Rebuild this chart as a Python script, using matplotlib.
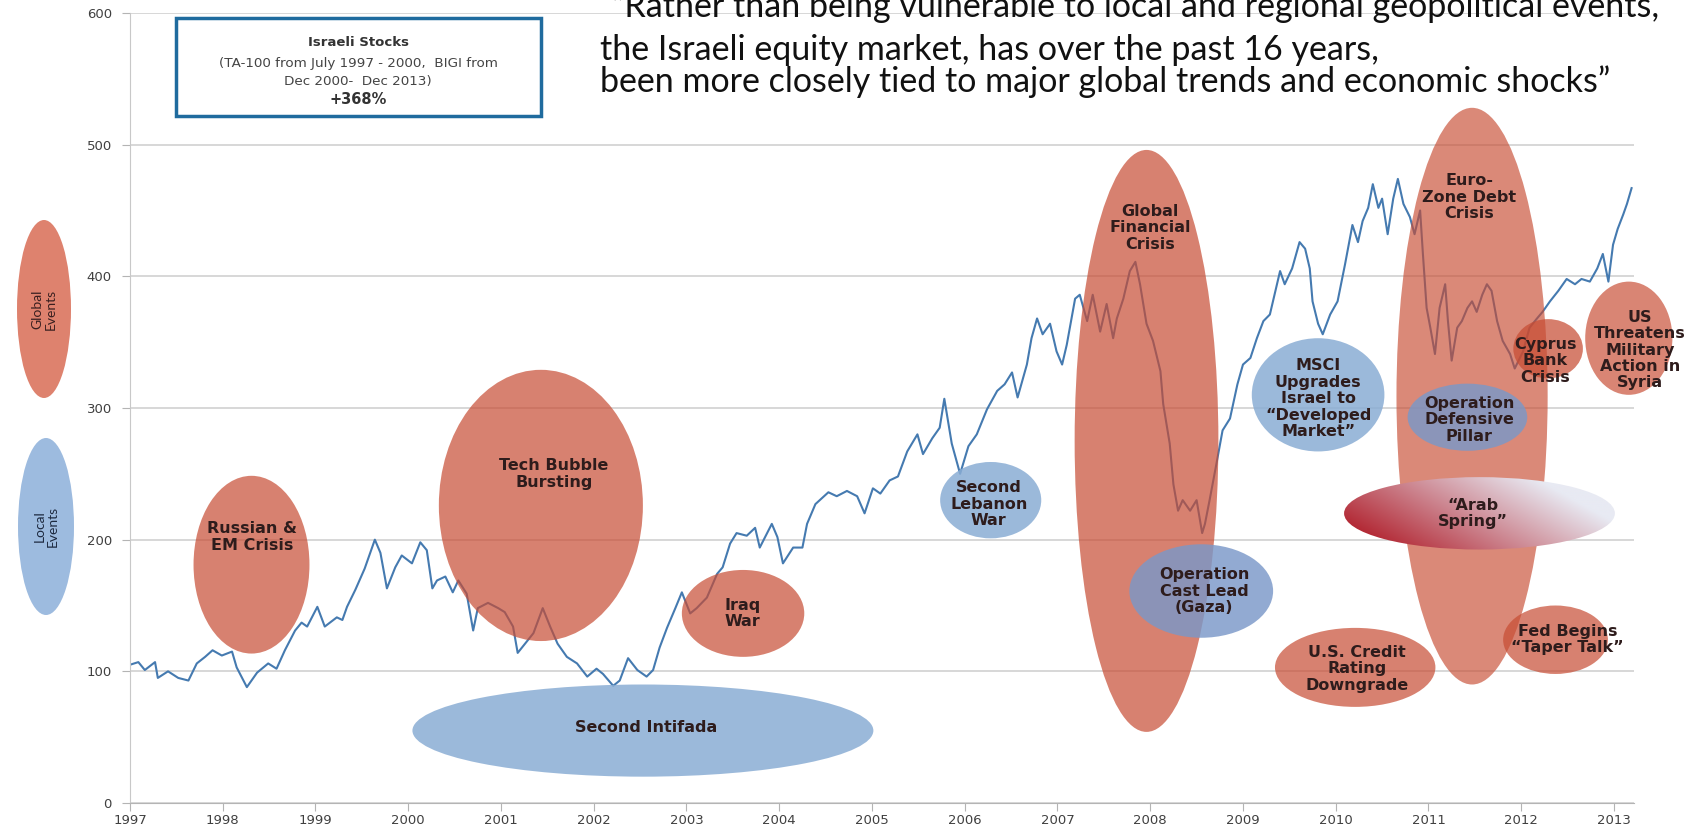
import numpy as np
import matplotlib.pyplot as plt
from matplotlib.patches import Ellipse, Rectangle

# ── Index level (rebased to 100), sampled roughly monthly ─────────────────────
years = [
    1997.00, 1997.09, 1997.16, 1997.27, 1997.30, 1997.41, 1997.52, 1997.63, 1997.72, 1997.81, 1997.89, 1997.99,
    1998.10, 1998.15, 1998.26, 1998.37, 1998.49, 1998.58, 1998.67, 1998.78, 1998.85, 1998.91,
    1999.02, 1999.10, 1999.23, 1999.29, 1999.34, 1999.43, 1999.53, 1999.64, 1999.70, 1999.77, 1999.86, 1999.93,
    2000.04, 2000.13, 2000.20, 2000.26, 2000.31, 2000.40, 2000.48, 2000.54, 2000.63, 2000.70, 2000.75, 2000.86, 2000.97,
    2001.04, 2001.13, 2001.18, 2001.26, 2001.35, 2001.45, 2001.53, 2001.61, 2001.71, 2001.82, 2001.93,
    2002.03, 2002.10, 2002.21, 2002.28, 2002.37, 2002.47, 2002.57, 2002.64, 2002.71, 2002.79, 2002.88, 2002.95,
    2003.04, 2003.11, 2003.22, 2003.33, 2003.39, 2003.47, 2003.54, 2003.65, 2003.74, 2003.79, 2003.87, 2003.92, 2003.98,
    2004.04, 2004.15, 2004.25, 2004.30, 2004.39, 2004.53, 2004.62, 2004.73, 2004.84, 2004.92,
    2005.01, 2005.09, 2005.19, 2005.28, 2005.38, 2005.49, 2005.55, 2005.65, 2005.73, 2005.78, 2005.86, 2005.95,
    2006.04, 2006.13, 2006.24, 2006.35, 2006.43, 2006.51, 2006.57, 2006.67, 2006.72, 2006.78, 2006.84, 2006.92, 2006.99,
    2007.05, 2007.10, 2007.19, 2007.24, 2007.32, 2007.38, 2007.46, 2007.53, 2007.60, 2007.64, 2007.71, 2007.78, 2007.84, 2007.89, 2007.96,
    2008.03, 2008.11, 2008.14, 2008.21, 2008.25, 2008.30, 2008.35, 2008.43, 2008.50, 2008.56, 2008.59, 2008.64, 2008.72, 2008.78, 2008.86, 2008.94,
    2009.00, 2009.08, 2009.15, 2009.22, 2009.29, 2009.34, 2009.40, 2009.45, 2009.53, 2009.61, 2009.67, 2009.72, 2009.75, 2009.81, 2009.86, 2009.94,
    2010.02, 2010.10, 2010.18, 2010.24, 2010.29, 2010.35, 2010.40, 2010.46, 2010.50, 2010.56, 2010.62, 2010.67, 2010.73, 2010.80, 2010.85, 2010.91, 2010.94, 2010.98,
    2011.02, 2011.07, 2011.12, 2011.18, 2011.21, 2011.25, 2011.31, 2011.36, 2011.42, 2011.47, 2011.52, 2011.58, 2011.63, 2011.68, 2011.74, 2011.80, 2011.88, 2011.93,
    2012.02, 2012.09, 2012.17, 2012.23, 2012.31, 2012.40, 2012.49, 2012.58, 2012.65, 2012.74, 2012.82, 2012.88, 2012.94, 2012.99,
    2013.04, 2013.10, 2013.14, 2013.19,
]
level = [
    105, 107, 101, 107, 95, 100, 95, 93, 106, 111, 116, 112,
    115, 103, 88, 99, 106, 102, 116, 131, 137, 134,
    149, 134, 141, 139, 149, 162, 178, 200, 190, 163, 179, 188,
    182, 198, 192, 163, 169, 172, 160, 169, 159, 131, 148, 152, 148,
    145, 134, 114, 121, 129, 148, 134, 121, 111, 106, 96,
    102, 98, 89, 93, 110, 101, 96, 101, 118, 133, 148, 160,
    144, 148, 156, 174, 179, 197, 205, 203, 209, 194, 205, 212, 202,
    182, 194, 194, 212, 227, 236, 233, 237, 233, 220,
    239, 235, 245, 248, 267, 280, 265, 277, 285, 307, 273, 250,
    271, 280, 299, 313, 318, 327, 308, 333, 353, 368, 356, 364, 343,
    333, 348, 383, 386, 366, 386, 358, 379, 353, 368, 383, 404, 411, 394, 364,
    351, 328, 303, 273, 242, 222, 230, 222, 230, 205, 212, 230, 260, 283, 292, 318,
    333, 338, 353, 366, 371, 386, 404, 394, 406, 426, 421, 406, 381, 364, 356, 371,
    381, 409, 439, 426, 442, 452, 470, 452, 459, 432, 459, 474, 455, 445, 432, 450, 417, 376,
    361, 341, 376, 394, 366, 336, 361, 366, 376, 381, 373, 386, 394, 389, 366, 351, 341, 330,
    343, 361, 368, 373, 381, 389, 398, 394, 398, 396, 406, 417, 396, 424,
    436, 447, 455, 467,
]
assert len(years) == len(level)

year_ticks = list(range(1997, 2014))
level_ticks = [0, 100, 200, 300, 400, 500, 600]

# ── Event bubbles: label, centre (year, level), size (years, level), colour, alpha, text pos
RED, BLUE, SLATE = "#c74c33", "#8aadd4", "#7a98c8"
events = [
    ("Global\nFinancial\nCrisis",            (2007.96, 275), (1.55, 442), RED,   0.70, (2008.00, 437)),
    ("Euro-\nZone Debt\nCrisis",              (2011.47, 309), (1.63, 438), RED,   0.66, (2011.44, 460)),
    ("Russian &\nEM Crisis",                  (1998.31, 181), (1.25, 135), RED,   0.70, (1998.32, 202)),
    ("Tech Bubble\nBursting",                 (2001.43, 226), (2.20, 206), RED,   0.70, (2001.57, 250)),
    ("Second Intifada",                       (2002.53, 55),  (4.97, 70),  BLUE,  0.85, (2002.56, 57)),
    ("Iraq\nWar",                             (2003.61, 144), (1.32, 66),  RED,   0.70, (2003.60, 144)),
    ("Second\nLebanon\nWar",                  (2006.28, 230), (1.09, 58),  BLUE,  0.85, (2006.26, 227)),
    ("Operation\nCast Lead\n(Gaza)",          (2008.55, 161), (1.55, 71),  SLATE, 0.82, (2008.58, 161)),
    ("MSCI\nUpgrades\nIsrael to\n\u201cDeveloped\nMarket\u201d",
                                              (2009.81, 310), (1.43, 86),  BLUE,  0.85, (2009.81, 307)),
    ("Operation\nDefensive\nPillar",          (2011.42, 293), (1.29, 51),  SLATE, 0.82, (2011.44, 291)),
    ("Cyprus\nBank\nCrisis",                  (2012.29, 345), (0.75, 45),  RED,   0.72, (2012.26, 336)),
    ("US\nThreatens\nMilitary\nAction in\nSyria", (2013.16, 353), (0.94, 86), RED, 0.68, (2013.28, 344)),
    ("U.S. Credit\nRating\nDowngrade",        (2010.21, 103), (1.73, 60),  RED,   0.70, (2010.23, 102)),
    ("Fed Begins\n\u201cTaper Talk\u201d",    (2012.37, 124), (1.13, 52),  RED,   0.70, (2012.50, 124)),
]

# ── Figure ─────────────────────────────────────────────────────────────────────
W, H, DPI = 1686, 830, 100
fig = plt.figure(figsize=(W / DPI, H / DPI), dpi=DPI)
fig.patch.set_facecolor("white")
ax = fig.add_axes([130 / W, 1 - 803 / H, (1634 - 130) / W, (803 - 13) / H])

ax.plot(years, level, color="#457ab0", lw=1.5, zorder=2)

for label, centre, size, fc, alpha, txt_xy in events:
    ax.add_patch(Ellipse(centre, size[0], size[1], facecolor=fc, edgecolor="none",
                         alpha=alpha, zorder=3, clip_on=False))
    ax.text(*txt_xy, label, ha="center", va="center", fontsize=11.5, fontweight="bold",
            color="#2e1c1c", linespacing=1.12, zorder=6, clip_on=False)

# "Arab Spring" bubble with a red-to-pale gradient fill
arab_c, arab_w, arab_h = (2011.55, 220), 2.92, 55
arab = Ellipse(arab_c, arab_w, arab_h, facecolor="none", edgecolor="none", zorder=4)
ax.add_patch(arab)
gu, gv = np.meshgrid(np.linspace(0, 1, 240), np.linspace(0, 1, 80))
t = np.clip(0.95 * gu + 0.45 * gv - 0.12, 0, 1)[..., None]
dark = np.array([176, 30, 42]) / 255
light = np.array([232, 234, 243]) / 255
grad = dark + (light - dark) * t
im = ax.imshow(grad, origin="lower", aspect="auto", zorder=4,
               extent=[arab_c[0] - arab_w / 2, arab_c[0] + arab_w / 2,
                       arab_c[1] - arab_h / 2, arab_c[1] + arab_h / 2])
im.set_clip_path(arab)
ax.text(2011.48, 220, "\u201cArab\nSpring\u201d", ha="center", va="center", fontsize=11.5,
        fontweight="bold", color="#2e1c1c", linespacing=1.12, zorder=6)

# ── Axes styling ───────────────────────────────────────────────────────────────
ax.set_xlim(1997.0, 2013.216)
ax.set_ylim(0, 600)
ax.set_xticks(year_ticks)
ax.set_yticks(level_ticks)
ax.yaxis.grid(True, color="#d4d4d4", lw=1.3)
ax.set_axisbelow(True)
for side in ("top", "right"):
    ax.spines[side].set_visible(False)
ax.spines["left"].set_color("#c8c8c8")
ax.spines["bottom"].set_color("#b4b4b4")
ax.tick_params(axis="both", direction="out", length=6, color="#b4b4b4",
               labelsize=9.5, labelcolor="#404040")
ax.tick_params(axis="y", pad=7)
ax.tick_params(axis="x", pad=2)

# ── Side key ───────────────────────────────────────────────────────────────────
fig.add_artist(Ellipse((44 / W, 1 - 309 / H), 54 / W, 178 / H, transform=fig.transFigure,
                       facecolor="#de826e", edgecolor="none"))
fig.add_artist(Ellipse((46 / W, 1 - 526.5 / H), 56 / W, 177 / H, transform=fig.transFigure,
                       facecolor="#9dbbdf", edgecolor="none"))
fig.text(44 / W, 1 - 309 / H, "Global\nEvents", rotation=90, ha="center", va="center",
         fontsize=10, family=["Lato", "DejaVu Sans"], color="#3a2020", linespacing=1.05)
fig.text(46 / W, 1 - 526.5 / H, "Local\nEvents", rotation=90, ha="center", va="center",
         fontsize=10, family=["Lato", "DejaVu Sans"], color="#1e2a40", linespacing=1.05)

# ── Index info box ─────────────────────────────────────────────────────────────
fig.add_artist(Rectangle((176 / W, 1 - 116 / H), (541 - 176) / W, (116 - 18) / H,
                         transform=fig.transFigure, facecolor="white",
                         edgecolor="#1f6b9e", lw=2.5))
bx = 358 / W
fig.text(bx, 1 - 42 / H, "Israeli Stocks", ha="center", va="center",
         fontsize=9.5, fontweight="bold", color="#333333")
fig.text(bx, 1 - 64 / H, "(TA-100 from July 1997 - 2000,  BIGI from", ha="center",
         va="center", fontsize=9.7, color="#444444")
fig.text(bx, 1 - 81 / H, "Dec 2000-  Dec 2013)", ha="center", va="center",
         fontsize=9.7, color="#444444")
fig.text(bx, 1 - 99 / H, "+368%", ha="center", va="center",
         fontsize=10.5, fontweight="bold", color="#333333")

# ── Quote ──────────────────────────────────────────────────────────────────────
quote = [
    (612, 7, "\u201cRather than being vulnerable to local and regional geopolitical events,"),
    (600, 50.5, "the Israeli equity market, has over the past 16 years,"),
    (600, 82, "been more closely tied to major global trends and economic shocks\u201d"),
]
for xx, yy, line in quote:
    fig.text(xx / W, 1 - yy / H, line, ha="left", va="center", fontsize=24.5,
             family=["Lato", "DejaVu Sans"], color="#111111")

fig.savefig("out.png", dpi=DPI, facecolor="white")
